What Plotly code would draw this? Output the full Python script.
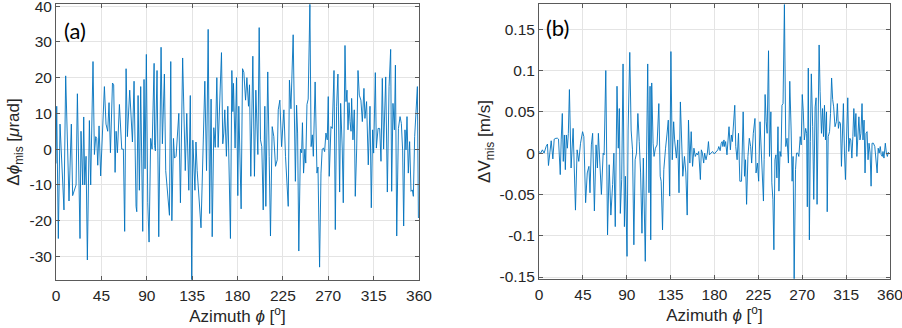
import plotly.graph_objects as go

# panel (a): pointing misalignment vs azimuth
phi_a = [0, 0.7, 2.3, 4.0, 7.9, 9.6, 12.9, 15.2, 16.5, 19.9, 21.2, 23.8, 24.8, 26.5, 27.5, 28.5, 29.8, 31.1,
         33.1, 34.4, 36.7, 38.1, 39.4, 40.4, 41.4, 42.7, 44.3, 48.0, 49.6, 51.3, 52.6, 54.0, 56.0, 57.2,
         58.6, 59.6, 60.9, 62.9, 65.2, 66.8, 68.1, 69.5, 70.8, 73.1, 75.8, 77.4, 79.4, 80.1, 81.4, 82.7,
         84.0, 85.0, 86.0, 87.3, 88.3, 89.6, 91.0, 92.3, 93.9, 95.3, 95.9, 97.3, 97.8, 98.6, 100.2, 101.9,
         104.2, 105.5, 107.5, 108.8, 112.5, 113.8, 114.9, 116.5, 117.5, 119.1, 121.8, 123.4, 125.6, 128.2,
         129.7, 131.7, 133.2, 134.6, 135.7, 137.8, 138.8, 140.0, 143.8, 146.0, 147.6, 149.3, 150.9, 152.4,
         153.8, 154.9, 156.5, 157.9, 159.5, 160.8, 162.0, 164.1, 165.4, 166.4, 167.4, 169.0, 170.4, 172.0,
         173.0, 174.4, 175.4, 176.0, 177.6, 179.0, 180.3, 181.3, 183.6, 185.0, 186.3, 188.0, 189.3, 190.9,
         191.9, 193.2, 195.2, 196.8, 198.2, 200.2, 201.5, 202.8, 204.1, 205.5, 207.1, 208.1, 210.0, 211.4,
         212.7, 214.4, 216.0, 217.7, 219.4, 220.4, 222.0, 223.7, 226.0, 227.6, 229.0, 230.3, 231.5, 233.0,
         235.2, 237.4, 238.6, 239.6, 240.8, 242.4, 243.6, 244.4, 245.5, 246.8, 247.7, 248.9, 250.1, 251.8,
         253.0, 254.2, 255.2, 257.0, 258.8, 259.8, 261.4, 262.8, 264.0, 265.2, 266.4, 267.7, 269.0, 270.0,
         271.0, 272.7, 274.0, 275.7, 277.0, 278.3, 279.6, 281.3, 282.3, 283.9, 284.9, 286.6, 287.6, 288.6,
         289.6, 290.6, 291.6, 292.6, 293.2, 294.5, 295.8, 296.8, 298.2, 299.5, 300.8, 302.4, 303.8, 305.4,
         306.4, 308.0, 309.7, 311.4, 312.7, 314.0, 315.0, 316.7, 317.7, 319.4, 321.0, 322.3, 323.6, 324.9,
         327.0, 328.6, 330.3, 331.9, 332.9, 334.2, 335.6, 336.6, 337.9, 339.6, 341.2, 342.5, 343.8, 344.8,
         346.1, 347.1, 348.1, 349.4, 350.7, 352.1, 353.4, 354.4, 355.7, 357.1, 358.4, 359.4, 360]
dphi_mis = [-4, 12, -25, 7, -17, 20.5, -14.5, 7, -13, -10, 15.5, -25, 5, -10, 9, -10, -2, -31,
            8, -10, 24.5, -1.5, 3.5, 3, -4.5, 6.5, -7.5, 17.5, 7, 5, 13, -1, 18.5, 18,
            -6.5, 5, -1, 12.5, 0, 0, -23, 22.5, 3.5, 16.5, 2, 19, -16, -17.5, 15, -11.5,
            17.5, -7, -23, 19.5, -5.5, 26.5, -15, -26, 3, 0, 8.5, 24, 1, -0.5, 22, -24.5,
            28.5, 1.5, 21, -6, -18.5, 24.5, -20, 3, -2.5, -2, 10, -15, 25.5, -6,
            10, -11.5, 15, -36.5, 2.5, -11.5, 2, -6, -22, 4, 19, -6, 33.5, -18,
            14, -24.5, 6, 0.5, 20, 0.5, 10, 27, 1.5, 4.5, 11, -2, 12, -6,
            -25, 22, 10.5, 18.4, 0.3, 20, -13, 12, -16.7, 22.5, 21.5, 13.7, 20, 12,
            18, -7.6, 26, -7.6, 16.5, -1.5, 34, 2.6, 0.7, -17, 12, -16, 21.6, -2,
            -24.3, 6.3, 3.5, -4.8, -3, 11, 13.7, 0.7, 11, -2, -9, -16, 19.3, 11.3,
            32, -9, 12.3, 4.5, -28.5, 0, -1, 7.4, -6.7, 0, -3.9, 12.5, 14, 40.5,
            0.7, 4, -2, 18.8, -6.7, -5, -33, -6.7, 0, 0.3, -0.7, 4.5, 2.6, 14.7,
            -7.6, 6.3, 5.8, 22, -22.5, 12, 21, -12, 12.8, 0, -15, 29, 13.3, 16.5,
            5.4, 13, 7.7, 5, 14.2, 2.6, 11, -13.2, 0.3, 22, 15.1, 13.7, 7.7, 17,
            8.6, 13.3, -4.4, 12, -16.4, 5.4, -1.1, 21.4, 0.3, 5.8, 5.8, -3.4, 19.8, 0,
            20.2, -12, 17.5, 27.9, -11.8, 12.8, 5.4, 23.5, -24.3, 5.8, 9.1, 7.2, -0.5, -21.5,
            5.4, -0.2, 9.1, -6.7, 2.1, -11.8, -11.4, -13.2, 3.5, 12.8, 17.5, -19.2, -19]

# panel (b): velocity misalignment vs azimuth
phi_b = [0, 1.7, 3.5, 5.2, 7.3, 8.7, 9.7, 11.4, 12.5, 14.2, 15.6, 17.3, 19.0, 20.0, 21.8, 22.8, 23.9, 24.9,
         26.0, 27.0, 28.0, 29.1, 30.1, 31.2, 32.2, 32.9, 35.0, 37.4, 39.1, 40.8, 42.6, 44.7, 46.0, 47.8,
         49.5, 51.2, 52.3, 53.7, 55.0, 56.8, 58.5, 59.9, 60.9, 62.7, 64.0, 65.8, 66.8, 68.5, 70.3, 72.0,
         73.7, 75.5, 76.8, 78.2, 80.0, 81.3, 82.4, 83.4, 84.8, 86.2, 87.6, 88.6, 90.3, 91.4, 93.1, 94.5,
         95.9, 97.3, 98.6, 100.0, 101.4, 102.8, 104.2, 105.6, 107.0, 109.0, 110.1, 111.5, 112.8, 113.9,
         114.6, 115.6, 117.0, 118.0, 119.4, 121.1, 122.9, 124.3, 125.3, 126.7, 128.0, 129.1, 129.8, 131.2,
         132.6, 134.0, 135.3, 136.7, 138.1, 139.1, 140.9, 142.3, 143.6, 145.0, 146.4, 147.5, 149.2, 150.6,
         152.0, 153.3, 154.7, 156.1, 157.5, 158.9, 160.3, 161.7, 162.7, 163.8, 165.5, 166.5, 167.6, 168.9,
         169.9, 171.3, 172.7, 173.8, 174.8, 176.3, 178.0, 179.8, 181.6, 183.4, 184.4, 185.8, 186.9, 187.9,
         188.6, 189.7, 190.4, 191.4, 192.8, 193.9, 194.9, 196.3, 197.3, 198.3, 199.7, 200.8, 201.8, 203.2,
         204.6, 206.0, 207.7, 209.4, 210.8, 211.8, 212.9, 214.3, 215.7, 217.1, 218.1, 219.8, 221.5, 222.6,
         224.0, 225.3, 226.7, 227.7, 228.8, 230.2, 230.9, 231.9, 233.0, 234.0, 235.4, 236.4, 237.8, 238.8,
         239.9, 240.9, 242.0, 243.0, 244.0, 245.1, 246.1, 247.2, 248.2, 249.2, 250.3, 251.7, 253.1, 254.4,
         255.8, 257.2, 258.6, 259.6, 260.6, 261.7, 263.1, 264.1, 265.5, 266.5, 267.9, 268.9, 270.0, 271.0,
         272.1, 273.5, 274.5, 275.2, 276.2, 277.3, 278.3, 279.3, 280.7, 281.8, 283.2, 284.2, 285.2, 286.3,
         287.3, 288.3, 289.7, 290.8, 291.8, 292.8, 293.8, 294.9, 295.6, 296.6, 298.0, 299.0, 300.1, 301.2,
         302.2, 303.6, 305.0, 306.0, 307.1, 308.1, 309.2, 310.2, 311.2, 312.2, 313.3, 314.3, 315.4, 316.7,
         317.7, 318.8, 319.8, 320.9, 321.9, 322.9, 324.0, 325.0, 326.0, 327.1, 328.1, 329.2, 330.2, 331.3,
         332.3, 333.4, 334.4, 335.4, 336.5, 337.5, 338.5, 339.6, 340.6, 341.6, 343.0, 344.4, 345.8, 346.8,
         347.9, 348.9, 350.0, 351.0, 352.1, 352.8, 353.8, 355.2, 356.3, 357.3, 358.3, 360]
dv_mis = [0.002, 0, 0.004, 0, 0.008, 0.011, -0.015, 0.008, 0.015, -0.007, 0.017, 0.018, 0.018, 0.017, -0.026, 0.017, 0.048, -0.01,
          0.022, -0.02, 0.022, 0.006, 0.024, 0.077, 0.028, -0.018, 0.03, -0.069, 0.004, -0.01, 0.012, 0.026, 0.02, -0.06,
          -0.024, -0.016, -0.048, 0.01, 0.024, -0.07, 0.01, -0.018, 0.024, -0.018, -0.05, 0, -0.002, 0.1, -0.099, -0.014,
          -0.075, -0.038, 0, -0.089, 0.081, 0.006, 0.054, -0.073, -0.032, 0.108, -0.089, -0.028, -0.125, 0.028, 0.122, 0.028,
          0.004, -0.111, -0.008, 0, 0.048, 0.014, -0.024, -0.097, -0.006, -0.131, 0.01, 0.108, -0.048, 0.081,
          -0.105, 0.085, 0.012, -0.004, 0.006, 0.01, 0.06, -0.028, -0.034, -0.093, -0.02, 0, 0.006, 0.022,
          0.04, -0.052, 0.123, -0.008, 0.038, 0.016, -0.006, 0.016, -0.048, 0.062, 0.02, -0.028, -0.004, -0.024,
          -0.075, 0.04, -0.012, 0.026, -0.016, 0.006, -0.004, 0, -0.002, 0.002, -0.032, 0.004, 0, -0.012,
          0, -0.008, 0, 0.014, -0.002, 0, 0.002, -0.001, 0.002, 0.004, 0.008, 0.003, 0.012, 0.014,
          0.008, 0.016, 0.008, 0.014, -0.002, 0.012, 0.032, 0.004, 0.022, 0.014, 0.036, 0.058, 0.008, -0.008,
          0.024, -0.034, -0.034, 0.05, -0.028, -0.008, -0.062, -0.004, 0.018, 0.008, -0.012, 0.024, 0.042, -0.024,
          -0.012, -0.034, 0.038, 0.012, -0.028, -0.058, -0.008, 0.071, 0.038, 0.024, 0.124, -0.004, 0.05, -0.036,
          -0.056, -0.117, -0.008, -0.002, -0.03, 0.032, -0.046, 0.002, -0.004, 0.058, 0.06, 0.18, 0.008, 0.018,
          -0.012, 0.087, 0.028, -0.034, -0.004, -0.152, -0.02, 0, 0, -0.004, 0.02, 0.01, 0.071, 0.052,
          0.016, 0.03, 0.024, -0.065, 0.103, -0.105, 0.014, 0.096, 0.032, -0.056, 0.056, 0.067, -0.062, 0.065,
          0.131, 0.075, 0.024, 0.054, 0.02, 0.058, 0.016, 0.05, -0.071, 0.02, 0.026, 0.048, 0.091, 0.065,
          0.056, 0.032, 0.038, 0.06, 0.03, 0.038, 0.036, -0.016, 0.018, 0.06, 0, -0.032, 0.016, 0.067,
          0.002, 0.018, 0.016, -0.006, 0.02, 0.054, 0.02, 0.048, -0.004, 0.016, 0.044, 0.016, 0.024, 0.06,
          0.016, 0.04, -0.024, 0.024, 0.026, -0.008, 0.012, 0, -0.04, 0.012, 0.012, 0.008, -0.008, -0.024,
          0.006, 0, 0.008, -0.002, -0.004, 0.002, -0.006, 0.012, 0, -0.004, 0.001, -0.001]

x_ticks = [0, 45, 90, 135, 180, 225, 270, 315, 360]
ya_ticks = [-30, -20, -10, 0, 10, 20, 30, 40]
yb_ticks = [-0.15, -0.1, -0.05, 0, 0.05, 0.1, 0.15]
yb_text = ["-0.15", "-0.1", "-0.05", "0", "0.05", "0.1", "0.15"]

W, H = 902, 328
line_col = "#0072BD"

fig = go.Figure()
fig.add_trace(go.Scatter(x=phi_a, y=dphi_mis, mode="lines", line=dict(color=line_col, width=0.9),
                         xaxis="x", yaxis="y", showlegend=False))
fig.add_trace(go.Scatter(x=phi_b, y=dv_mis, mode="lines", line=dict(color=line_col, width=0.9),
                         xaxis="x2", yaxis="y2", showlegend=False))

tick_font = dict(family="Liberation Sans, Arial", size=15.5, color="#262626")
title_font = dict(family="Liberation Sans, Arial", size=17, color="#262626")
common = dict(showline=True, linecolor="#5a5a5a", linewidth=1, mirror="ticks", ticks="inside",
              ticklen=4, tickcolor="#5a5a5a", showgrid=True, gridcolor="#e4e4e4", gridwidth=1,
              zeroline=False, tickfont=tick_font, automargin=False, ticklabeloverflow="allow")

xtitle = "Azimuth <i>ϕ</i> [<sup>o</sup>]"
fig.update_layout(
    width=W, height=H,
    margin=dict(l=0, r=0, t=0, b=0),
    plot_bgcolor="white", paper_bgcolor="white",
    xaxis=dict(domain=[56 / W, 419 / W], range=[0, 360], tickvals=x_ticks, anchor="y",
               title=dict(text=xtitle, font=title_font, standoff=5), ticklabelstandoff=1, **common),
    yaxis=dict(domain=[1 - 280 / H, 1 - 4 / H], range=[-36.6, 40.6], tickvals=ya_ticks,
               ticktext=[str(v) for v in ya_ticks], anchor="x",
               title=dict(text="Δ<i>ϕ</i><sub>mis</sub> [<i>μ</i>rad]", font=title_font, standoff=5), **common),
    xaxis2=dict(domain=[539 / W, 890 / W], range=[0, 360], tickvals=x_ticks, anchor="y2",
                title=dict(text=xtitle, font=title_font, standoff=5), ticklabelstandoff=1, **common),
    yaxis2=dict(domain=[1 - 279 / H, 1 - 4 / H], range=[-0.1524, 0.1806], tickvals=yb_ticks,
                ticktext=yb_text, anchor="x2",
                title=dict(text="ΔV<sub>mis</sub> [m/s]", font=title_font, standoff=4), **common),
)

# panel labels
fig.add_annotation(x=75 / W, y=1 - 31 / H, xref="paper", yref="paper", text="(a)", showarrow=False,
                   xanchor="center", yanchor="middle",
                   font=dict(family="Lato, Open Sans", size=22, color="black"))
fig.add_annotation(x=557 / W, y=1 - 28 / H, xref="paper", yref="paper", text="(b)", showarrow=False,
                   xanchor="center", yanchor="middle",
                   font=dict(family="Lato, Open Sans", size=22, color="black"))

# page body has a default 8px margin, drop it so the figure sits at the window corner
fig.write_html("out.html", config={"displayModeBar": False},
               post_script="document.body.style.margin='0';")
